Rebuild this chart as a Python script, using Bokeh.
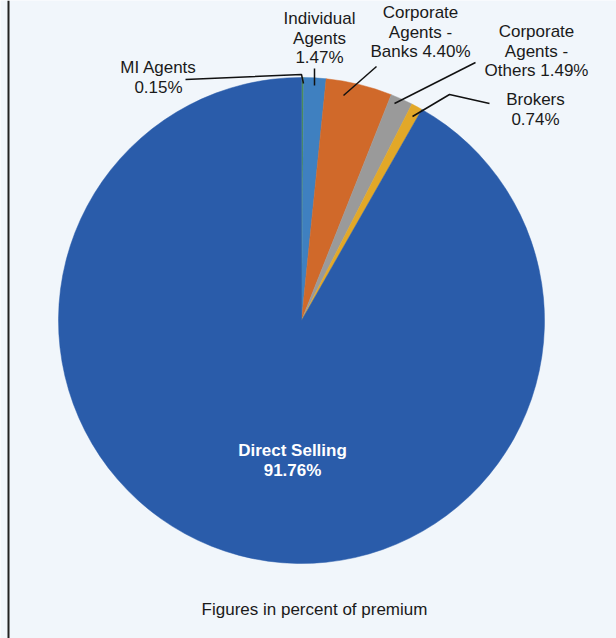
import numpy as np
from bokeh.plotting import figure
from bokeh.models import Range1d, Span
from bokeh.core.properties import value
from bokeh.embed import file_html
from bokeh.resources import INLINE

# ---- data ----
categories = ["MI Agents", "Individual Agents", "Corporate Agents - Banks",
              "Corporate Agents - Others", "Brokers", "Direct Selling"]
shares = [0.15, 1.47, 4.40, 1.49, 0.74, 91.76]
label_heads = [["MI Agents"], ["Individual", "Agents"], ["Corporate", "Agents -", "Banks "],
               ["Corporate", "Agents -", "Others "], ["Brokers"], ["Direct Selling"]]
footnote = "Figures in percent of premium"

# ---- styles / layout (pixel coords, top-left origin) ----
colors = ["#4b8b5c", "#3f80c0", "#d0692a", "#9a9a9a", "#e2a828", "#2a5caa"]
W, H = 616, 638
CX, CY, R = 301, 320, 243
BG = "#f1f6fb"
label_pos = [(158, 67), (319, 18), (420, 12), (536, 31), (535, 99), (292, 450)]
line_step = 19.5
leaders = [
    [(185, 79), (301, 74), (303, 83)],
    [(314, 68), (314, 85)],
    [(376, 66), (343, 95)],
    [(475, 62), (394, 103)],
    [(489, 103), (449, 94), (412, 116)],
]

def fy(py):
    return H - py

p = figure(width=W, height=H, output_backend="svg", toolbar_location=None,
           x_range=Range1d(0, W), y_range=Range1d(0, H), min_border=0)
p.axis.visible = False
p.grid.visible = False
p.outline_line_color = None
p.background_fill_color = BG
p.border_fill_color = BG

vals = np.array(shares, dtype=float)
frac = vals / vals.sum()
cum = np.concatenate([[0.0], np.cumsum(frac)])
starts = np.pi / 2 - 2 * np.pi * cum[:-1]
ends = np.pi / 2 - 2 * np.pi * cum[1:]

p.wedge(x=[CX] * len(vals), y=[fy(CY)] * len(vals), radius=R,
        start_angle=list(starts), end_angle=list(ends), direction="clock",
        fill_color=colors, line_color=colors, line_width=0.5)

# leader lines
p.multi_line(xs=[[pt[0] for pt in l] for l in leaders],
             ys=[[fy(pt[1]) for pt in l] for l in leaders],
             line_color="#111111", line_width=1.5)

# labels
for i, (heads, s) in enumerate(zip(label_heads, shares)):
    pct = f"{s:.2f}%"
    if heads[-1].endswith(" "):
        lines = heads[:-1] + [heads[-1] + pct]
    else:
        lines = heads + [pct]
    lx, ly = label_pos[i]
    is_main = categories[i] == "Direct Selling"
    p.text(x=[lx] * len(lines), y=[fy(ly + k * line_step) for k in range(len(lines))],
           text=lines, text_align="center", text_baseline="middle",
           text_font=value("Liberation Sans"), text_font_size="17px",
           text_font_style="bold" if is_main else "normal",
           text_color="#ffffff" if is_main else "#1a1a1a")

p.text(x=[314], y=[fy(609)], text=[footnote], text_align="center", text_baseline="middle",
       text_font=value("Liberation Sans"), text_font_size="17px", text_color="#1a1a1a")

p.add_layout(Span(location=8, dimension="height", line_color="#222222", line_width=2))

open("out.html", "w").write(file_html(p, INLINE))
